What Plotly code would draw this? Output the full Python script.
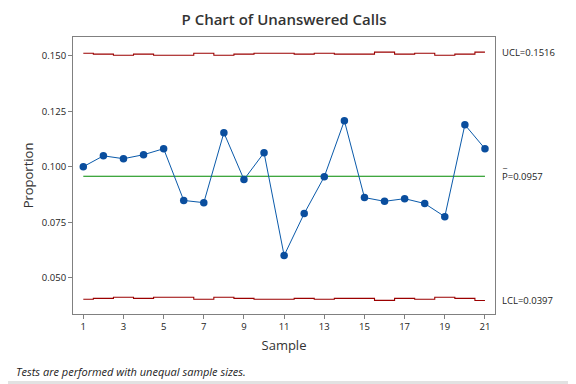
import plotly.graph_objects as go

samples = list(range(1, 22))
proportion = [0.1000, 0.1049, 0.1036, 0.1054, 0.1081, 0.0848, 0.0838, 0.1153, 0.0942, 0.1063,
              0.0600, 0.0789, 0.0955, 0.1207, 0.0861, 0.0844, 0.0856, 0.0834, 0.0775, 0.1189, 0.1081]
ucl = [0.1511, 0.1507, 0.1502, 0.1507, 0.1502, 0.1502, 0.1511, 0.1502, 0.1507, 0.1511, 0.1511,
       0.1507, 0.1511, 0.1507, 0.1507, 0.1516, 0.1507, 0.1511, 0.1502, 0.1507, 0.1516]
lcl = [0.0403, 0.0407, 0.0412, 0.0407, 0.0412, 0.0412, 0.0403, 0.0412, 0.0407, 0.0403, 0.0403,
       0.0407, 0.0403, 0.0407, 0.0407, 0.0398, 0.0407, 0.0403, 0.0412, 0.0407, 0.0397]
p_bar = 0.0957
ucl_label = "UCL=0.1516"
p_label = "P=0.0957"
lcl_label = "LCL=0.0397"
x_ticks = [1, 3, 5, 7, 9, 11, 13, 15, 17, 19, 21]
y_ticks = [0.050, 0.075, 0.100, 0.125, 0.150]

FONT = "Open Sans"
RED = "#9B0000"
TXT = "#222"

# page body has an 8px margin, so the figure is sized/offset to compensate
W, H = 568, 376
L, R, T, B = 65, 81, 29, 70
PW, PH = W - L - R, H - T - B

fig = go.Figure()
fig.add_trace(go.Scatter(x=samples, y=ucl, mode="lines", line=dict(color=RED, width=1.1, shape="hvh"),
                         hoverinfo="skip", showlegend=False))
fig.add_trace(go.Scatter(x=samples, y=lcl, mode="lines", line=dict(color=RED, width=1.1, shape="hvh"),
                         hoverinfo="skip", showlegend=False))
fig.add_trace(go.Scatter(x=[samples[0], samples[-1]], y=[p_bar, p_bar], mode="lines",
                         line=dict(color="#008A00", width=1.2), showlegend=False))
fig.add_trace(go.Scatter(x=samples, y=proportion, mode="lines+markers",
                         line=dict(color="#0A5AAA", width=1),
                         marker=dict(color="#0A4E9E", size=7.5), showlegend=False))

lab_x = (492 - L) / PW
annotations = []
for yv, txt in [(ucl[-1], ucl_label), (p_bar, p_label), (lcl[-1], lcl_label)]:
    annotations.append(dict(x=lab_x, y=yv, xref="paper", yref="y", text=txt, showarrow=False,
                            xanchor="left", yanchor="middle", font=dict(family=FONT, size=9.5, color=TXT)))
annotations.append(dict(x=lab_x, y=p_bar, xref="paper", yref="y", text="_", showarrow=False,
                        xanchor="left", yanchor="bottom", yshift=4, font=dict(family=FONT, size=9.5, color=TXT)))
annotations.append(dict(x=(6 - L) / PW, y=-(363 - (T + PH)) / PH, xref="paper", yref="paper",
                        text="<i>Tests are performed with unequal sample sizes.</i>",
                        showarrow=False, xanchor="left", yanchor="middle",
                        font=dict(family=FONT, size=11, color=TXT)))

fig.update_layout(
    width=W, height=H,
    margin=dict(l=L, r=R, t=T, b=B),
    paper_bgcolor="white", plot_bgcolor="white",
    title=dict(text="P Chart of Unanswered Calls", x=(L + PW / 2) / W, xanchor="center",
               y=1 - 12 / H, yanchor="middle",
               font=dict(family=FONT, size=15, color="#333", weight=600)),
    xaxis=dict(range=[0.487, 21.5], tickvals=x_ticks, ticks="outside", ticklen=4, tickcolor="#808080",
               showline=True, linecolor="#808080", mirror=True, showgrid=False, zeroline=False,
               tickfont=dict(family=FONT, size=9.5, color=TXT),
               title=dict(text="Sample", font=dict(family=FONT, size=13, color="#333", weight=500), standoff=8)),
    yaxis=dict(range=[0.03365, 0.15842], tickvals=y_ticks, tickformat=".3f", ticks="outside", ticklen=4,
               tickcolor="#808080", showline=True, linecolor="#808080", mirror=True, showgrid=False,
               zeroline=False, tickfont=dict(family=FONT, size=9.5, color=TXT),
               title=dict(text="Proportion", font=dict(family=FONT, size=13, color="#333", weight=500), standoff=5)),
    annotations=annotations,
    shapes=[
        dict(type="line", xref="paper", yref="paper", x0=1 + (R - 1.5) / PW, x1=1 + (R - 1.5) / PW,
             y0=-B / PH, y1=1 + T / PH, line=dict(color="#E2E2E2", width=3), layer="below"),
        dict(type="line", xref="paper", yref="paper", x0=-L / PW, x1=1 + R / PW,
             y0=-(B - 1.5) / PH, y1=-(B - 1.5) / PH, line=dict(color="#E2E2E2", width=3), layer="below"),
    ],
)
fig.write_html("out.html")
